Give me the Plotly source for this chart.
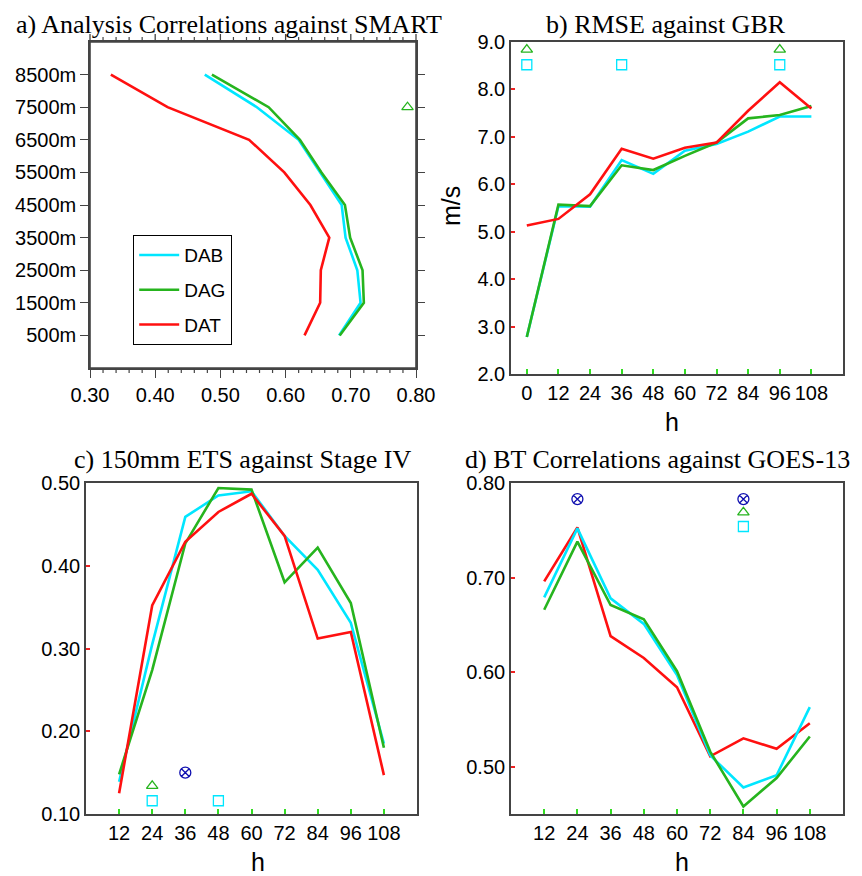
import plotly.graph_objects as go

W, H = 862, 876
OFF = 8  # page body margin of the browser

# ---------------- data ----------------
heights = [500, 1500, 2500, 3500, 4500, 5500, 6500, 7500, 8500]
height_labels = ["500m", "1500m", "2500m", "3500m", "4500m", "5500m", "6500m", "7500m", "8500m"]
a_dab = [0.682, 0.715, 0.710, 0.692, 0.686, 0.653, 0.620, 0.556, 0.476]
a_dag = [0.683, 0.720, 0.718, 0.699, 0.691, 0.655, 0.622, 0.574, 0.487]
a_dat = [0.629, 0.653, 0.654, 0.667, 0.638, 0.598, 0.544, 0.419, 0.332]
a_tri_x = [0.787]
a_tri_y = [7500]

hours_b = [0, 12, 24, 36, 48, 60, 72, 84, 96, 108]
b_dat = [5.13, 5.27, 5.79, 6.75, 6.54, 6.77, 6.88, 7.55, 8.15, 7.60]
b_dab = [2.78, 5.54, 5.53, 6.51, 6.22, 6.71, 6.85, 7.11, 7.43, 7.43]
b_dag = [2.78, 5.57, 5.54, 6.40, 6.30, 6.60, 6.88, 7.39, 7.46, 7.65]
b_tri_x = [0, 96]
b_tri_y = [8.84, 8.84]
b_sq_x = [0, 36, 96]
b_sq_y = [8.52, 8.52, 8.52]

hours_cd = [12, 24, 36, 48, 60, 72, 84, 96, 108]
c_dat = [0.125, 0.352, 0.429, 0.465, 0.487, 0.436, 0.312, 0.320, 0.147]
c_dab = [0.139, 0.305, 0.459, 0.485, 0.490, 0.436, 0.395, 0.331, 0.185]
c_dag = [0.148, 0.274, 0.427, 0.494, 0.492, 0.380, 0.422, 0.355, 0.180]
c_cx_x = [36]
c_cx_y = [0.150]
c_tri_x = [24]
c_tri_y = [0.134]
c_sq_x = [24, 48]
c_sq_y = [0.116, 0.116]

d_dat = [0.696, 0.753, 0.638, 0.615, 0.584, 0.511, 0.530, 0.519, 0.546]
d_dab = [0.679, 0.752, 0.678, 0.651, 0.597, 0.512, 0.478, 0.491, 0.563]
d_dag = [0.666, 0.738, 0.671, 0.656, 0.601, 0.516, 0.458, 0.488, 0.532]
d_cx_x = [24, 84]
d_cx_y = [0.783, 0.783]
d_tri_x = [84]
d_tri_y = [0.769]
d_sq_x = [84]
d_sq_y = [0.754]

a_xticks = [0.3, 0.4, 0.5, 0.6, 0.7, 0.8]
a_minor_step = 0.02
hour_ticks_b = [0, 12, 24, 36, 48, 60, 72, 84, 96, 108]
hour_ticks_cd = [12, 24, 36, 48, 60, 72, 84, 96, 108]

# ---------------- style ----------------
CYAN = "#00e6ff"
GREEN = "#26b41e"
RED = "#ff1010"
BLUE = "#1010b0"
LW = 2.6
AXC = "#444444"
SANS = "Liberation Sans, Arial, sans-serif"
SERIF = "Liberation Serif, Times New Roman, serif"


def px_x(p):
    return (p - OFF) / W


def px_y(p):
    return 1 - (p - OFF) / H


fig = go.Figure()


def line(x, y, color, name, xa, ya, legend=False):
    fig.add_trace(go.Scatter(x=x, y=y, mode="lines", name=name, legendgroup=name,
                             line=dict(color=color, width=LW),
                             xaxis=xa, yaxis=ya, showlegend=legend))


def marks(x, y, symbol, color, size, xa, ya):
    fig.add_trace(go.Scatter(x=x, y=y, mode="markers",
                             marker=dict(symbol=symbol, color=color, size=size,
                                         line=dict(color=color, width=1.3)),
                             xaxis=xa, yaxis=ya, showlegend=False))


# empty helper trace so the right-hand tick axis of panel a is drawn
fig.add_trace(go.Scatter(x=[], y=[], mode="lines", xaxis="x", yaxis="y5",
                         showlegend=False, hoverinfo="skip"))

# panel a
line(a_dab, heights, CYAN, "DAB", "x", "y", True)
line(a_dag, heights, GREEN, "DAG", "x", "y", True)
line(a_dat, heights, RED, "DAT", "x", "y", True)
marks(a_tri_x, a_tri_y, "triangle-up-open", GREEN, 10, "x", "y")

# panel b
line(hours_b, b_dab, CYAN, "DAB", "x2", "y2")
line(hours_b, b_dag, GREEN, "DAG", "x2", "y2")
line(hours_b, b_dat, RED, "DAT", "x2", "y2")
marks(b_tri_x, b_tri_y, "triangle-up-open", GREEN, 10, "x2", "y2")
marks(b_sq_x, b_sq_y, "square-open", CYAN, 10, "x2", "y2")

# panel c
line(hours_cd, c_dab, CYAN, "DAB", "x3", "y3")
line(hours_cd, c_dag, GREEN, "DAG", "x3", "y3")
line(hours_cd, c_dat, RED, "DAT", "x3", "y3")
marks(c_cx_x, c_cx_y, "circle-x-open", BLUE, 11, "x3", "y3")
marks(c_tri_x, c_tri_y, "triangle-up-open", GREEN, 10, "x3", "y3")
marks(c_sq_x, c_sq_y, "square-open", CYAN, 10, "x3", "y3")

# panel d
line(hours_cd, d_dat, RED, "DAT", "x4", "y4")
line(hours_cd, d_dab, CYAN, "DAB", "x4", "y4")
line(hours_cd, d_dag, GREEN, "DAG", "x4", "y4")
marks(d_cx_x, d_cx_y, "circle-x-open", BLUE, 11, "x4", "y4")
marks(d_tri_x, d_tri_y, "triangle-up-open", GREEN, 10, "x4", "y4")
marks(d_sq_x, d_sq_y, "square-open", CYAN, 10, "x4", "y4")

tickfont = dict(family=SANS, size=20, color="black")

common = dict(showline=True, linecolor=AXC, linewidth=1.6,
              showgrid=False, zeroline=False, tickfont=tickfont,
              automargin=False, tickangle=0)
bare = dict(showline=False, showgrid=False, zeroline=False, automargin=False,
            showticklabels=False, tickcolor=AXC, tickwidth=1.3, ticks="outside")

# domains (pixel boxes, in page pixels)
A_L, A_R, A_T, A_B = 90, 416, 42, 368
dom_a_x = [px_x(A_L), px_x(A_R)]
dom_a_y = [px_y(A_B), px_y(A_T)]
dom_b_x = [px_x(511), px_x(843)]
dom_b_y = [px_y(374), px_y(42)]
dom_c_x = [px_x(86), px_x(417)]
dom_c_y = [px_y(814), px_y(483)]
dom_d_x = [px_x(511), px_x(843)]
dom_d_y = [px_y(814), px_y(483)]

a_xrange = [0.30, 0.80]
a_yrange = [-500, 9500]

fig.update_layout(
    template="none",
    width=W, height=H,
    margin=dict(l=0, r=0, t=0, b=0, autoexpand=False),
    paper_bgcolor="white", plot_bgcolor="white",
    xaxis=dict(domain=dom_a_x, anchor="y", range=a_xrange,
               tickvals=a_xticks, tickformat=".2f", mirror=True,
               ticks="outside", ticklen=8, tickwidth=1.3, tickcolor=AXC,
               **common),
    yaxis=dict(domain=dom_a_y, anchor="x", range=a_yrange,
               tickvals=heights, ticktext=height_labels, mirror=True,
               ticks="outside", ticklen=8, tickwidth=1.3, tickcolor=AXC,
               **common),
    yaxis5=dict(overlaying="y", anchor="x", side="right", range=a_yrange,
                tickvals=heights, ticklen=8, **bare),
    xaxis2=dict(domain=dom_b_x, anchor="y2", range=[-6, 120], mirror=True,
                tickvals=hour_ticks_b, ticks="inside", ticklen=5, tickwidth=1.5,
                tickcolor="#33dd22", **common),
    yaxis2=dict(domain=dom_b_y, anchor="x2", range=[2, 9], dtick=1, tick0=2,
                mirror=True, tickformat=".1f", ticks="inside", ticklen=4,
                tickwidth=1.5, tickcolor="#ee2222", **common),
    xaxis3=dict(domain=dom_c_x, anchor="y3", range=[0, 120], mirror=True,
                tickvals=hour_ticks_cd, ticks="inside", ticklen=5, tickwidth=1.5,
                tickcolor="#33dd22", **common),
    yaxis3=dict(domain=dom_c_y, anchor="x3", range=[0.1, 0.5], dtick=0.1, tick0=0.1,
                mirror=True, tickformat=".2f", ticks="inside", ticklen=4,
                tickwidth=1.5, tickcolor="#ee2222", **common),
    xaxis4=dict(domain=dom_d_x, anchor="y4", range=[0, 120], mirror=True,
                tickvals=hour_ticks_cd, ticks="inside", ticklen=5, tickwidth=1.5,
                tickcolor="#33dd22", **common),
    yaxis4=dict(domain=dom_d_y, anchor="x4", range=[0.45, 0.80],
                tickvals=[0.5, 0.6, 0.7, 0.8], tickformat=".2f", ticks="inside",
                mirror=True, ticklen=4, tickwidth=1.5, tickcolor="#ee2222", **common),
    legend=dict(x=px_x(133), y=px_y(235), xanchor="left", yanchor="top",
                bordercolor="black", borderwidth=1.2, bgcolor="white",
                font=dict(family=SANS, size=19, color="black"),
                itemwidth=40, tracegroupgap=7),
    showlegend=True,
)

# frame of panel a (axis box)
fig.add_shape(type="rect", xref="x domain", yref="y domain", x0=0, x1=1, y0=0, y1=1,
              line=dict(color=AXC, width=1.6), fillcolor="rgba(0,0,0,0)", layer="above")


# top major ticks and top/bottom minor ticks of panel a: paper coordinates that
# follow the linear x scale of panel a (axis decoration only, no data)
def a_tick_x(v):
    frac = (v - a_xrange[0]) / (a_xrange[1] - a_xrange[0])
    return px_x(A_L + frac * (A_R - A_L))


top0, top_maj, top_mnr = px_y(A_T), px_y(A_T - 8), px_y(A_T - 5)
bot0, bot_mnr = px_y(A_B), px_y(A_B + 5)
for v in a_xticks:
    xp = a_tick_x(v)
    fig.add_shape(type="line", xref="paper", yref="paper", x0=xp, x1=xp, y0=top0,
                  y1=top_maj, line=dict(color=AXC, width=1.3))
n_minor = int(round((a_xrange[1] - a_xrange[0]) / a_minor_step))
for k in range(n_minor + 1):
    v = round(a_xrange[0] + k * a_minor_step, 4)
    if any(abs(v - t) < 1e-6 for t in a_xticks):
        continue
    xp = a_tick_x(v)
    fig.add_shape(type="line", xref="paper", yref="paper", x0=xp, x1=xp, y0=top0,
                  y1=top_mnr, line=dict(color=AXC, width=1.2))
    fig.add_shape(type="line", xref="paper", yref="paper", x0=xp, x1=xp, y0=bot0,
                  y1=bot_mnr, line=dict(color=AXC, width=1.2))

title_font = dict(family=SERIF, size=26, color="black")
titles = [
    ("a) Analysis Correlations against SMART", 229, 8.5, "top"),
    ("b) RMSE against GBR", 666, 8.5, "top"),
    ("c) 150mm ETS against Stage IV", 243, 459, "middle"),
    ("d) BT Correlations against GOES-13", 657, 459, "middle"),
]
for txt, cx, cy, ya in titles:
    fig.add_annotation(text=txt, x=px_x(cx), y=px_y(cy), xref="paper", yref="paper",
                       xanchor="center", yanchor=ya, showarrow=False,
                       font=title_font, borderpad=0)

label_font = dict(family=SANS, size=25, color="black")
for txt, cx, cy, ang in [("h", 672, 422, 0), ("h", 258, 862, 0), ("h", 682, 862, 0),
                         ("m/s", 451, 206, -90)]:
    fig.add_annotation(text=txt, x=px_x(cx), y=px_y(cy), xref="paper", yref="paper",
                       xanchor="center", yanchor="middle", showarrow=False,
                       font=label_font, textangle=ang)

fig.write_html("out.html")
